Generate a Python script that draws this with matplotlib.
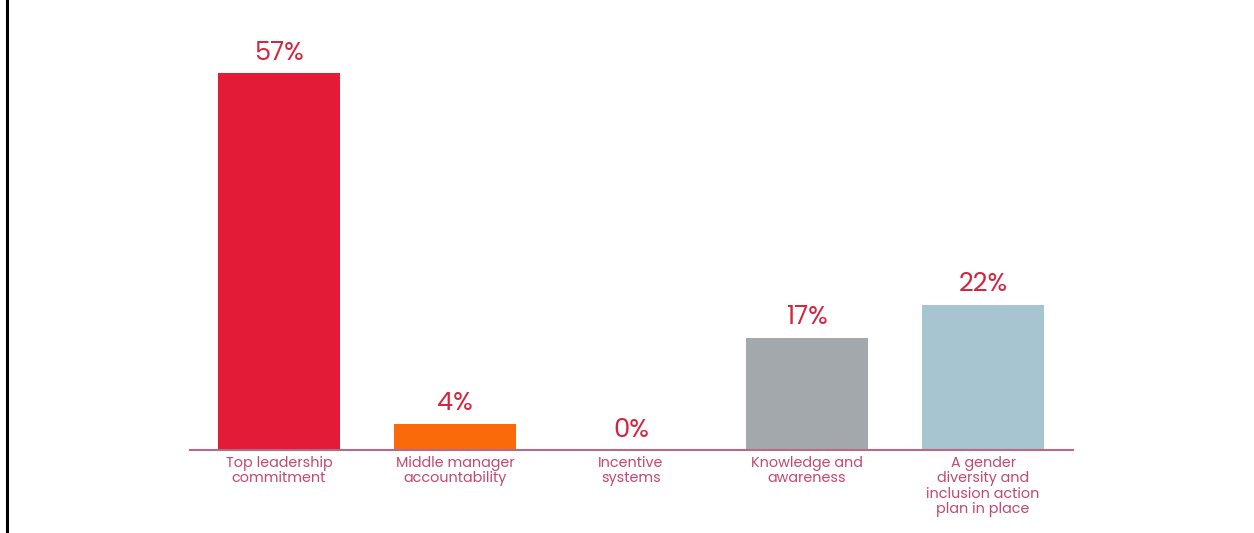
import matplotlib
matplotlib.use("Agg")
import matplotlib.pyplot as plt
from matplotlib.lines import Line2D

categories = ["Top leadership\ncommitment", "Middle manager\naccountability",
              "Incentive\nsystems", "Knowledge and\nawareness",
              "A gender\ndiversity and\ninclusion action\nplan in place"]
values = [57, 4, 0, 17, 22]
colors = ["#e31b37", "#fb6a0a", "#e31b37", "#a3a8ad", "#a6c5d1"]

plt.rcParams['font.family'] = ['Poppins', 'Lato', 'DejaVu Sans']

fig = plt.figure(figsize=(12.54, 5.33), dpi=100)
ax = fig.add_axes([190/1254, 1-450/533, 883/1254, 410/533])

x = list(range(len(categories)))
ax.bar(x, values, width=0.693, color=colors, zorder=2)
ax.set_xlim(-0.506, 4.511)
ax.set_ylim(0, 62.0)

for xi, v in zip(x, values):
    ax.annotate(f"{v}%", (xi, v), xytext=(0, 4.5), textcoords="offset points",
                ha="center", va="bottom", fontsize=18.5, color="#d3263f")

for s in ["top", "right", "left"]:
    ax.spines[s].set_visible(False)
ax.spines["bottom"].set_color("#b86a85")
ax.spines["bottom"].set_linewidth(1.5)
ax.set_yticks([])
ax.set_xticks(x)
ax.set_xticklabels(categories, fontsize=10.3, color="#c4476f", linespacing=1.05)
ax.tick_params(axis="x", length=0, pad=4)

fig.add_artist(Line2D([7/1254, 7/1254], [0, 1], color="black", linewidth=2.2,
                      transform=fig.transFigure))

fig.savefig("out.png", dpi=100, facecolor="white")
